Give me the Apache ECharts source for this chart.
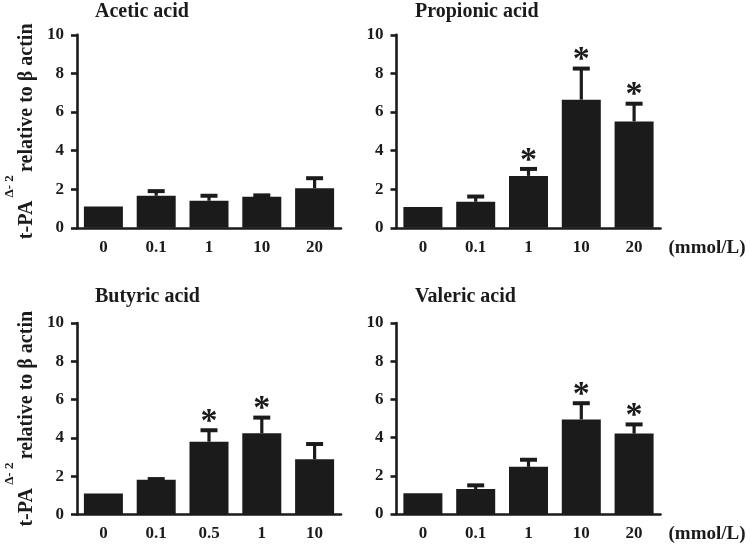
<!DOCTYPE html>
<html>
<head>
<meta charset="utf-8">
<script src="https://cdn.jsdelivr.net/npm/echarts@6/dist/echarts.min.js"></script>
<style>html,body{margin:0;padding:0;background:#fff;}#c{width:750px;height:554px;}</style>
</head>
<body>
<div id="c"></div>
<script>
// ---- data ----
const categoriesA = ['0', '0.1', '1', '10', '20'];
const categoriesB = ['0', '0.1', '0.5', '1', '10'];
const yTicks = [0, 2, 4, 6, 8, 10];

const aceticMean = [1.1, 1.66, 1.4, 1.61, 2.05];
const aceticSD   = [0, 0.24, 0.26, 0.07, 0.52];
const aceticSig  = [0, 0, 0, 0, 0];

const propionicMean = [1.08, 1.35, 2.69, 6.64, 5.51];
const propionicSD   = [0, 0.27, 0.36, 1.61, 0.92];
const propionicSig  = [0, 0, 1, 1, 1];

const butyricMean = [1.1, 1.82, 3.8, 4.24, 2.88];
const butyricSD   = [0, 0.03, 0.6, 0.82, 0.8];
const butyricSig  = [0, 0, 1, 1, 0];

const valericMean = [1.08, 1.31, 2.47, 4.95, 4.21];
const valericSD   = [0, 0.19, 0.37, 0.85, 0.48];
const valericSig  = [0, 0, 0, 1, 1];

const titles = ['Acetic acid', 'Propionic acid', 'Butyric acid', 'Valeric acid'];
const unitLabel = '(mmol/L)';

// ---- chart ----
const FONT = "'Liberation Serif','Times New Roman',serif";
const INK = '#1b1b1b';
const panels = [
  {title: titles[0], cats: categoriesA, mean: aceticMean, sd: aceticSD, sig: aceticSig, grid: {left: 77, top: 34.8, width: 264, height: 193}, tx: 95, ty: 2, yname: true, unit: false},
  {title: titles[1], cats: categoriesA, mean: propionicMean, sd: propionicSD, sig: propionicSig, grid: {left: 396.5, top: 34.8, width: 264, height: 193}, tx: 415, ty: 2, yname: false, unit: true},
  {title: titles[2], cats: categoriesB, mean: butyricMean, sd: butyricSD, sig: butyricSig, grid: {left: 77, top: 323, width: 264, height: 191.5}, tx: 95, ty: 287, yname: true, unit: false},
  {title: titles[3], cats: categoriesA, mean: valericMean, sd: valericSD, sig: valericSig, grid: {left: 396.5, top: 323, width: 264, height: 191.5}, tx: 415, ty: 287, yname: false, unit: true}
];

function renderErr(params, api) {
  const idx = api.value(0), mean = api.value(1), sd = api.value(2), sig = api.value(3);
  const base = api.coord([idx, mean]);
  const top = api.coord([idx, mean + sd]);
  const children = [];
  if (sd > 0) {
    children.push({type: 'line', shape: {x1: base[0], y1: base[1], x2: top[0], y2: top[1]}, style: {stroke: INK, lineWidth: 3.2}});
    children.push({type: 'line', shape: {x1: top[0] - 8.5, y1: top[1], x2: top[0] + 8.5, y2: top[1]}, style: {stroke: INK, lineWidth: 4}});
  }
  if (sig) {
    children.push({type: 'text', style: {text: '*', x: top[0], y: top[1] + 9, fill: INK, font: 'bold 34px ' + FONT, align: 'center', verticalAlign: 'bottom'}});
  }
  return {type: 'group', children: children};
}

const option = {
  backgroundColor: '#fff',
  animation: false,
  title: [], grid: [], xAxis: [], yAxis: [], series: []
};

panels.forEach((p, i) => {
  option.title.push({text: p.title, left: p.tx, top: p.ty, padding: 0,
    textStyle: {fontFamily: FONT, fontWeight: 'bold', fontSize: 20, color: INK}});
  option.grid.push(Object.assign({containLabel: false}, p.grid));
  option.xAxis.push({
    type: 'category', gridIndex: i, data: p.cats,
    axisLine: {lineStyle: {color: INK, width: 2.6}},
    axisTick: {alignWithLabel: true, length: 7, lineStyle: {color: INK, width: 2.6}},
    axisLabel: {margin: 11, fontFamily: FONT, fontWeight: 'bold', fontSize: 17, color: INK},
    name: p.unit ? '\n' + unitLabel : '',
    nameLocation: 'end', nameGap: 8,
    nameTextStyle: {fontFamily: FONT, fontWeight: 'bold', fontSize: 19, lineHeight: 40, color: INK, align: 'left'}
  });
  option.yAxis.push({
    type: 'value', gridIndex: i, min: yTicks[0], max: yTicks[yTicks.length - 1], interval: yTicks[1] - yTicks[0],
    axisLine: {show: true, lineStyle: {color: INK, width: 2.6}},
    axisTick: {show: true, length: 6, lineStyle: {color: INK, width: 2.6}},
    splitLine: {show: false},
    axisLabel: {margin: 13, fontFamily: FONT, fontWeight: 'bold', fontSize: 17, color: INK},
    name: p.yname ? '{m|t-PA}{s| Δ- 2 }{m|relative to β actin}' : '',
    nameLocation: 'middle', nameRotate: 90, nameGap: 40,
    nameTextStyle: {
      rich: {
        m: {fontFamily: FONT, fontWeight: 'bold', fontSize: 20, color: INK, lineHeight: 34, verticalAlign: 'bottom'},
        s: {fontFamily: FONT, fontWeight: 'bold', fontSize: 13, color: INK, lineHeight: 14, verticalAlign: 'top'}
      }
    }
  });
  option.series.push({
    type: 'bar', xAxisIndex: i, yAxisIndex: i, data: p.mean, barWidth: 39,
    itemStyle: {color: INK}, z: 2
  });
  option.series.push({
    type: 'custom', xAxisIndex: i, yAxisIndex: i, z: 3,
    data: p.mean.map((m, k) => [k, m, p.sd[k], p.sig[k]]),
    encode: {x: 0, y: 1},
    renderItem: renderErr
  });
});

const chart = echarts.init(document.getElementById('c'), null, {renderer: 'canvas'});
chart.setOption(option);
</script>
</body>
</html>
